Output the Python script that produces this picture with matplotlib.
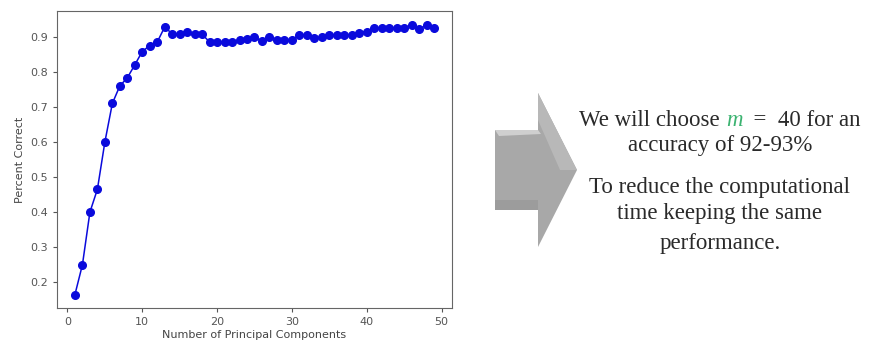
import matplotlib.pyplot as plt
from matplotlib.patches import Polygon

# Data
n_components = list(range(1, 50))
percent_correct = [
    0.165, 0.25, 0.40, 0.465, 0.60, 0.71, 0.76, 0.783, 0.82, 0.858,
    0.875, 0.885, 0.928, 0.908, 0.908, 0.915, 0.907, 0.907, 0.885, 0.884,
    0.884, 0.884, 0.89, 0.893, 0.898, 0.888, 0.898, 0.892, 0.892, 0.892,
    0.905, 0.905, 0.897, 0.898, 0.905, 0.905, 0.905, 0.905, 0.912, 0.915,
    0.925, 0.925, 0.925, 0.925, 0.925, 0.933, 0.922, 0.933, 0.925,
]
x_ticks = [0, 10, 20, 30, 40, 50]
y_ticks = [0.2, 0.3, 0.4, 0.5, 0.6, 0.7, 0.8, 0.9]

line1 = ["We will choose ", "m", "  =  40 for an"]
other_lines = ["accuracy of 92-93%", "To reduce the computational",
               "time keeping the same", "performance."]

W, H = 870, 349
fig = plt.figure(figsize=(W / 100, H / 100), dpi=100)

# main plot
ax = fig.add_axes([57 / W, 1 - 308 / H, 395 / W, 297 / H])
ax.plot(n_components, percent_correct, color='#0a0adc', marker='o',
        markersize=5.5, linewidth=1.1)
ax.set_xticks(x_ticks)
ax.set_yticks(y_ticks)
ax.set_xlim(-1.4, 51.4)
ax.set_ylim(0.1265, 0.9735)
ax.tick_params(labelsize=8, colors='#555555', length=3)
for s in ax.spines.values():
    s.set_color('#666666')
ax.set_xlabel('Number of Principal Components', fontsize=8, color='#444444', labelpad=2)
ax.set_ylabel('Percent Correct', fontsize=8, color='#444444', labelpad=4)

# overlay in pixel coordinates for arrow and text
ov = fig.add_axes([0, 0, 1, 1], facecolor='none')
ov.set_xlim(0, W)
ov.set_ylim(H, 0)
ov.axis('off')

arrow = [(495, 130), (538, 130), (538, 93), (577, 170), (538, 247),
         (538, 210), (495, 210)]
ov.add_patch(Polygon(arrow, closed=True, facecolor='#a8a8a8', edgecolor='none'))
# lighter top bevel on body, darker shade along the lower head edge
ov.add_patch(Polygon([(495, 130), (538, 130), (541, 134), (499, 136)],
                     closed=True, facecolor='#cfcfcf', edgecolor='none'))
ov.add_patch(Polygon([(538, 93), (577, 170), (560, 170), (538, 120)],
                     closed=True, facecolor='#b8b8b8', edgecolor='none'))
ov.add_patch(Polygon([(495, 200), (538, 200), (538, 210), (495, 210)],
                     closed=True, facecolor='#9c9c9c', edgecolor='none'))

font = dict(family='Liberation Serif', fontsize=16.5, color='#2a2a2a')
cx = 720
# first line with green m, built from pieces
t0 = ov.text(0, 120, line1[0], va='center', ha='left', **font)
t1 = ov.annotate(line1[1], xy=(1, 0), xycoords=t0, va='bottom', ha='left',
                 family='Liberation Serif', fontsize=16.5, style='italic',
                 color='#3cb371')
t2 = ov.annotate(line1[2], xy=(1, 0), xycoords=t1, va='bottom', ha='left', **font)
fig.canvas.draw()
r = fig.canvas.get_renderer()
total = sum(t.get_window_extent(r).width for t in (t0, t1, t2))
t0.set_x(cx - total / 2)

for txt, y in zip(other_lines, [145, 187, 213, 243]):
    ov.text(cx, y, txt, ha='center', va='center', **font)

fig.savefig('out.png', dpi=100)
